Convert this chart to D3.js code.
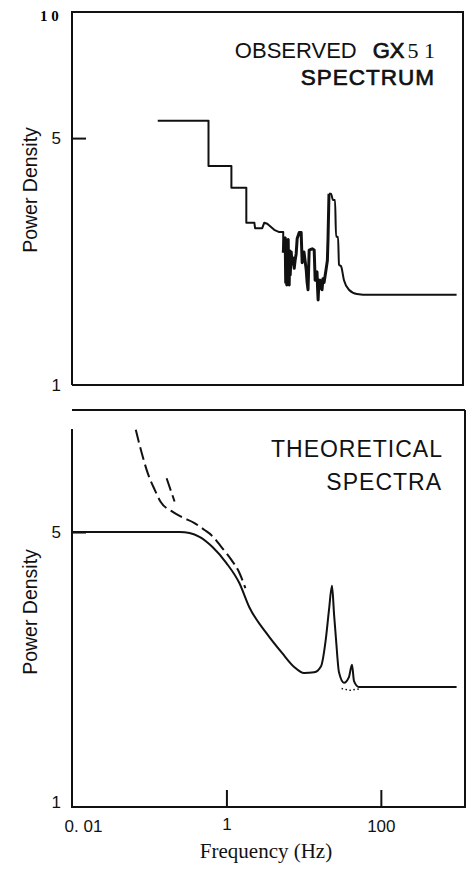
<html>
<head>
  <meta charset="utf-8">
  <style type="text/css">
    body { margin: 0; background: #fff; }
    .frame { fill: none; stroke: #111; stroke-width: 2; }
    .curve { fill: none; stroke: #111; stroke-width: 2; stroke-linejoin: round; }
    .noisy { fill: none; stroke: #111; stroke-width: 3; stroke-linejoin: round; }
    .dash { fill: none; stroke: #111; stroke-width: 2; stroke-dasharray: 13,5; }
    .dots { fill: none; stroke: #111; stroke-width: 1.5; stroke-dasharray: 1.5,2.5; }
    .axis path { display: none; }
    .axis line { stroke: #111; stroke-width: 2; }
    .axis text { font-family: "Liberation Sans", Arial, sans-serif; font-size: 17px; fill: #111; }
    .ttl { font-family: "Liberation Sans", Arial, sans-serif; fill: #111; }
    .heavy { stroke: #111; stroke-width: 0.7px; }
  </style>
</head>
<body>
<script src="https://d3js.org/d3.v7.min.js"></script>
<script>
  // observed GX 5-1 spectrum (frequency in Hz, power density)
  var obsFreq = [0.129, 0.586, 0.586, 1.16, 1.16, 1.81, 1.81, 2.30, 2.35, 2.91, 3.09, 3.38, 4.16, 4.83, 5.44, 5.44];
  var obsPower = [5.60, 5.60, 4.17, 4.17, 3.62, 3.62, 2.88, 2.88, 2.78, 2.78, 2.88, 2.86, 2.75, 2.71, 2.71, 2.37];
  var noiseFreq = [5.44, 5.6, 5.77, 5.86, 5.95, 6.05, 6.15, 6.31, 6.40, 6.50, 6.6, 6.7, 6.90, 7.1, 7.32, 7.55, 7.77,
    8.0, 8.25, 8.75, 9.29, 9.57, 9.8, 10.1, 10.8, 11.1, 11.4, 11.8, 12.9, 13.7, 14.1, 14.5, 14.9, 15.2, 15.4, 15.8,
    16.3, 16.8, 17.3, 17.8, 18.4, 19.5, 20.3, 20.7, 21.3];
  var noisePower = [2.37, 2.55, 2.61, 1.95, 2.45, 1.92, 2.57, 2.58, 2.0, 1.92, 2.40, 2.05, 2.38, 2.2, 2.29, 2.14, 2.26,
    2.35, 2.60, 2.70, 2.70, 2.22, 2.30, 2.38, 2.12, 1.95, 1.86, 2.41, 2.43, 2.41, 1.98, 2.08, 2.09, 1.85, 1.74, 1.98,
    1.98, 1.88, 1.86, 2.0, 1.95, 2.12, 2.25, 2.60, 3.48];
  var peakFreq = [21.3, 22.6, 24.0, 25.5, 26.3, 27.9, 28.7, 30.5, 33.3, 38.6, 49.0, 70, 957];
  var peakPower = [3.48, 3.48, 3.34, 3.34, 2.63, 2.63, 2.19, 2.17, 1.98, 1.86, 1.81, 1.80, 1.80];

  // theoretical spectra
  var thFreq = [0.01, 0.213, 0.248, 0.333, 0.448, 0.660, 1.0, 1.47, 1.98, 3.28, 5.28, 7.54, 10.1, 13.7, 16.8,
    19.5, 21.3, 23.3, 24.8, 26.3, 28.7, 33.3, 38.6, 42.3, 44.9, 52.0, 957];
  var thPower = [5.0, 5.0, 5.0, 4.97, 4.86, 4.58, 4.17, 3.71, 3.22, 2.77, 2.46, 2.27, 2.19, 2.20, 2.28,
    2.70, 3.17, 3.65, 3.08, 2.66, 2.20, 2.07, 2.14, 2.30, 2.09, 2.02, 2.02];
  var dashFreq = [0.067, 0.080, 0.0957, 0.118, 0.141, 0.195, 0.263, 0.386, 0.520, 0.640, 0.862, 1.16, 1.47, 1.76];
  var dashPower = [9.1, 7.94, 7.06, 6.40, 5.96, 5.65, 5.46, 5.27, 5.06, 4.91, 4.58, 4.25, 3.94, 3.60];
  var dash2Freq = [0.168, 0.213];
  var dash2Power = [6.85, 5.98];
  var dotFreq = [31, 40, 55];
  var dotPower = [2.0, 1.98, 2.0];

  var xTicks = [0.01, 1, 100];
  var xTickLabels = ["0. 01", "1", "100"];
  var yTicks = [1, 5];

  var W = 472, H = 869;
  var svg = d3.select("body").append("svg").attr("width", W).attr("height", H);

  var xScale = d3.scaleLog().domain([0.01, 1230]).range([72, 465]);
  var yTop = d3.scaleLog().domain([1, 11.3]).range([385, 13]);
  var yBot = d3.scaleLog().domain([1, 9.14]).range([807, 429]);

  function zip(a, b) { return a.map(function (d, i) { return [d, b[i]]; }); }
  function lineFor(y) {
    return d3.line().x(function (d) { return xScale(d[0]); }).y(function (d) { return y(d[1]); });
  }

  // frames
  svg.append("path").attr("class", "frame")
    .attr("d", "M72,385V12H463V385H72");
  svg.append("line").attr("class", "frame").attr("x1", 72).attr("x2", 465).attr("y1", 410).attr("y2", 410);
  svg.append("path").attr("class", "frame")
    .attr("d", "M72,429V807H465V410");

  // x axis (bottom panel)
  var xAxis = svg.append("g").attr("class", "axis").attr("transform", "translate(0,807)")
    .call(d3.axisBottom(xScale).tickValues(xTicks).tickSize(-17).tickPadding(20)
      .tickFormat(function (d, i) { return xTickLabels[i]; }));
  xAxis.selectAll(".tick").filter(function (d) { return d === 0.01; }).select("line").remove();
  xAxis.selectAll(".tick text").attr("dx", function (d) { return d === 0.01 ? 11 : 0; })
    .attr("dy", function (d) { return d === 1 ? "0.2em" : "0.3em"; });

  // y axes
  var yAxisTop = svg.append("g").attr("class", "axis").attr("transform", "translate(72,0)")
    .call(d3.axisLeft(yTop).tickValues(yTicks).tickSize(-14).tickPadding(11).tickFormat(d3.format("d")));
  var yAxisBot = svg.append("g").attr("class", "axis").attr("transform", "translate(72,0)")
    .call(d3.axisLeft(yBot).tickValues(yTicks).tickSize(-14).tickPadding(11).tickFormat(d3.format("d")));
  yAxisTop.selectAll(".tick").filter(function (d) { return d === 1; }).select("line").remove();
  yAxisBot.selectAll(".tick").filter(function (d) { return d === 1; }).select("line").remove();
  yAxisBot.selectAll(".tick text").attr("dy", function (d) { return d === 1 ? "0.05em" : "0.32em"; });

  svg.append("text").attr("x", 40).attr("y", 21)
    .style("font-family", "Liberation Serif, serif").style("font-size", "15px").style("font-weight", "bold")
    .text("1 0");

  // curves
  svg.append("path").datum(zip(obsFreq, obsPower)).attr("class", "curve").attr("d", lineFor(yTop));
  svg.append("path").datum(zip(noiseFreq, noisePower)).attr("class", "noisy").attr("d", lineFor(yTop));
  svg.append("path").datum(zip(peakFreq, peakPower)).attr("class", "curve")
    .attr("d", lineFor(yTop).curve(d3.curveMonotoneX));
  svg.append("path").datum(zip(thFreq, thPower)).attr("class", "curve")
    .attr("d", lineFor(yBot).curve(d3.curveMonotoneX));
  svg.append("path").datum(zip(dashFreq, dashPower)).attr("class", "dash")
    .attr("d", lineFor(yBot).curve(d3.curveMonotoneX));
  svg.append("path").datum(zip(dash2Freq, dash2Power)).attr("class", "dash").attr("d", lineFor(yBot));
  svg.append("path").datum(zip(dotFreq, dotPower)).attr("class", "dots").attr("d", lineFor(yBot));

  // titles
  var t1 = svg.append("text").attr("class", "ttl").attr("x", 435).attr("y", 58)
    .attr("text-anchor", "end").style("font-size", "22px");
  t1.append("tspan").text("OBSERVED");
  t1.append("tspan").attr("dx", 16).attr("class", "heavy").style("font-size", "22px").text("GX");
  t1.append("tspan").attr("dx", 3).style("font-family", "Liberation Serif, serif").style("font-size", "22px")
    .text("5 1");
  svg.append("text").attr("class", "ttl heavy").attr("x", 435).attr("y", 85).attr("text-anchor", "end")
    .style("font-size", "22.5px").style("letter-spacing", "1px").text("SPECTRUM");
  svg.append("text").attr("class", "ttl").attr("x", 443).attr("y", 457).attr("text-anchor", "end")
    .style("font-size", "23px").style("letter-spacing", "1px").text("THEORETICAL");
  svg.append("text").attr("class", "ttl").attr("x", 442).attr("y", 490).attr("text-anchor", "end")
    .style("font-size", "23px").style("letter-spacing", "1px").text("SPECTRA");

  // axis titles
  [190, 612].forEach(function (cy) {
    svg.append("text").attr("class", "ttl").attr("text-anchor", "middle")
      .attr("transform", "translate(37," + cy + ") rotate(-90)")
      .style("font-size", "19.5px").text("Power Density");
  });
  svg.append("text").attr("x", 266).attr("y", 858).attr("text-anchor", "middle")
    .style("font-family", "Liberation Serif, serif").style("font-size", "21px").style("fill", "#111")
    .text("Frequency (Hz)");
</script>
</body>
</html>
